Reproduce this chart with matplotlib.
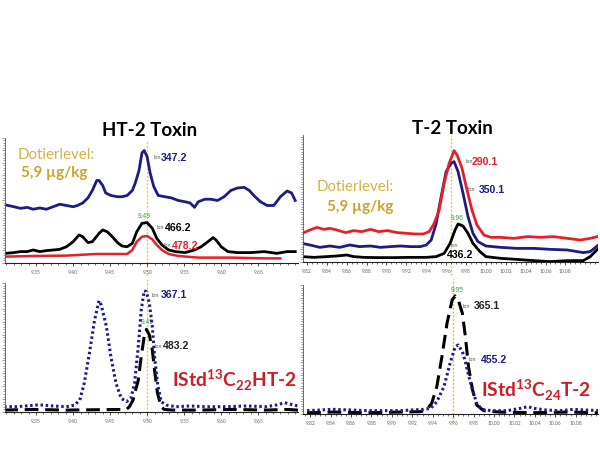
import matplotlib
matplotlib.use('Agg')
import matplotlib.pyplot as plt
from matplotlib.ticker import MultipleLocator

plt.rcParams['font.family'] = ['Lato', 'DejaVu Sans']
plt.rcParams['mathtext.fontset'] = 'custom'
plt.rcParams['mathtext.rm'] = 'Lato'
plt.rcParams['mathtext.bf'] = 'Lato:bold'

NAVY = '#1c1c84'
RED = '#e4202a'
GOLD = '#d2b24a'
GOLD2 = '#c9a52c'
GREEN = '#3c9c3c'
YEL = '#efc84a'

# --- HT-2 Toxin (oben links) ---
ht2_t_347 = [9.309, 9.320, 9.329, 9.338, 9.346, 9.355, 9.364, 9.373, 9.382, 9.391, 9.400, 9.406,
             9.413, 9.420, 9.426, 9.432, 9.435, 9.440, 9.444, 9.451, 9.460, 9.466, 9.473, 9.480,
             9.484, 9.489, 9.493, 9.496, 9.500, 9.504, 9.509, 9.515, 9.524, 9.533, 9.542, 9.551,
             9.558, 9.564, 9.569, 9.578, 9.586, 9.595, 9.604, 9.613, 9.622, 9.631, 9.638, 9.644,
             9.653, 9.662, 9.671, 9.680, 9.689, 9.695, 9.700]
ht2_i_347 = [46.4, 45, 43.7, 44.5, 43, 44, 43, 45, 47, 46, 45, 46,
             48, 52, 58, 66, 66, 62, 56, 54, 53, 53, 54, 58,
             64, 74, 88, 90, 85, 72, 61, 54, 53, 52, 50, 49,
             48, 44.5, 49, 51, 51, 50, 53, 58, 60, 60.5, 58, 54,
             49, 46, 46, 53, 57.6, 56, 50]
ht2_t_466 = [9.309, 9.320, 9.329, 9.338, 9.346, 9.355, 9.364, 9.373, 9.382, 9.391, 9.400, 9.408,
             9.413, 9.420, 9.426, 9.435, 9.440, 9.446, 9.453, 9.460, 9.466, 9.473, 9.480, 9.486,
             9.493, 9.500, 9.507, 9.513, 9.520, 9.529, 9.538, 9.551, 9.564, 9.573, 9.582, 9.589,
             9.593, 9.600, 9.609, 9.622, 9.640, 9.658, 9.675, 9.689, 9.700]
ht2_i_466 = [7.7, 8.3, 9.1, 9.1, 10.4, 9.1, 9.9, 10.4, 10.9, 13, 17, 22.4,
             21, 16.3, 17, 23.7, 26.4, 25, 21, 16.3, 13.6, 13, 15.7, 25,
             31.7, 32.3, 27.7, 19.7, 14.4, 10.4, 9.1, 8.3, 10.4, 13, 17, 20.3,
             18.4, 13, 9.1, 8.3, 8.3, 9.1, 7.7, 9.1, 9.1]
ht2_t_478 = [9.309, 9.346, 9.391, 9.431, 9.458, 9.473, 9.480, 9.486, 9.493, 9.500, 9.507, 9.513,
             9.520, 9.529, 9.542, 9.569, 9.613, 9.658, 9.680]
ht2_i_478 = [5.1, 5.6, 5.9, 7.2, 7.2, 7.2, 10.4, 17, 21, 21.6, 18.9, 14.4,
             10.4, 7.2, 5.6, 4.3, 4.3, 3.7, 3.7]

# --- T-2 Toxin (oben rechts) ---
t2_t_290 = [9.815, 9.823, 9.830, 9.837, 9.843, 9.850, 9.859, 9.867, 9.875, 9.884, 9.892, 9.901,
            9.911, 9.921, 9.929, 9.937, 9.943, 9.948, 9.953, 9.958, 9.963, 9.968, 9.971, 9.976,
            9.981, 9.986, 9.991, 9.998, 10.005, 10.015, 10.028, 10.042, 10.055, 10.068, 10.082,
            10.095, 10.105, 10.112]
t2_i_290 = [22.9, 25.6, 27.7, 26.1, 26.9, 25.6, 23.5, 25.1, 24.3, 26.1, 24.3, 25.1,
            23.5, 22.9, 22.4, 22.4, 24.3, 30.9, 41.6, 62.9, 78.9, 89.1, 85.6, 74.9,
            57.6, 41.6, 29.6, 21.6, 19.7, 19.7, 18.9, 20.3, 19.7, 20.3, 18.9,
            17.6, 18.9, 20.3]
t2_t_350 = [9.815, 9.823, 9.833, 9.843, 9.853, 9.863, 9.873, 9.884, 9.894, 9.904, 9.914, 9.924,
            9.934, 9.940, 9.945, 9.950, 9.955, 9.960, 9.965, 9.968, 9.972, 9.977, 9.982, 9.987,
            9.992, 10.000, 10.015, 10.031, 10.048, 10.065, 10.082, 10.098, 10.105, 10.112, 10.115]
t2_i_350 = [14.9, 13.6, 11.7, 12.8, 11.7, 13.6, 12.3, 12.8, 11.7, 12.3, 12.8, 12.3,
            12.3, 13.6, 17.6, 30.9, 52.3, 72.3, 78.9, 80.3, 72.3, 55, 36.3, 22.9,
            16.3, 12.8, 11.7, 10.9, 10.9, 10.1, 9.6, 7.5, 8.3, 12.8, 14.9]
t2_t_436 = [9.815, 9.827, 9.840, 9.850, 9.860, 9.867, 9.877, 9.890, 9.907, 9.924, 9.940, 9.950,
            9.958, 9.964, 9.969, 9.972, 9.977, 9.982, 9.987, 9.994, 10.000, 10.015, 10.031,
            10.048, 10.065, 10.082, 10.098, 10.105, 10.110, 10.115]
t2_i_436 = [4.3, 3.7, 4.3, 4.8, 5.6, 4.3, 3.7, 3.5, 3.5, 3.7, 3.7, 4.3,
            6.9, 14.9, 25.6, 30.4, 28.8, 22.9, 14.9, 8.3, 4.3, 2.9, 2.1,
            1.1, 0.3, 1.1, 1.1, 4.3, 8.3, 12.3]

# --- IStd 13C22 HT-2 (unten links) ---
is_ht2_t_367 = [9.307, 9.323, 9.336, 9.350, 9.359, 9.372, 9.391, 9.402, 9.409, 9.415, 9.422, 9.429,
                9.435, 9.438, 9.445, 9.451, 9.458, 9.465, 9.472, 9.478, 9.483, 9.488, 9.492, 9.496,
                9.499, 9.503, 9.507, 9.510, 9.514, 9.519, 9.526, 9.539, 9.557, 9.580, 9.607, 9.634,
                9.661, 9.674, 9.686, 9.692, 9.704]
is_ht2_i_367 = [4.1, 4.1, 4.7, 5.4, 5.4, 4.7, 4.1, 5.4, 9.3, 22.2, 45.5, 71.3,
                86.3, 82.9, 66.1, 42.9, 22.2, 10.6, 8.0, 10.6, 22.2, 50.6, 79.1, 94.0,
                93.3, 84.3, 66.1, 42.9, 22.2, 8.0, 5.4, 4.1, 4.7, 4.1, 4.1, 4.7,
                4.1, 5.4, 7.2, 6.2, 4.7]
is_ht2_t_483 = [9.307, 9.345, 9.391, 9.436, 9.472, 9.476, 9.481, 9.488, 9.492, 9.496, 9.499, 9.503,
                9.507, 9.510, 9.514, 9.519, 9.523, 9.534, 9.570, 9.615, 9.661, 9.688, 9.704]
is_ht2_i_483 = [1.5, 2, 1.5, 1.8, 2, 4.1, 9.3, 24.8, 42.9, 58.4, 64.1, 59.7,
                48.1, 32.6, 14.5, 4, 2, 1.5, 1.5, 2, 1.5, 2, 1.5]

# --- IStd 13C24 T-2 (unten rechts) ---
is_t2_t_365 = [9.817, 9.843, 9.876, 9.908, 9.928, 9.934, 9.939, 9.944, 9.949, 9.954, 9.959, 9.962,
               9.965, 9.969, 9.972, 9.975, 9.979, 9.983, 9.990, 10.006, 10.039, 10.072, 10.103]
is_t2_i_365 = [1, 1.5, 1, 1.5, 1.8, 3.1, 8.3, 21.2, 44.4, 70.3, 88.4, 91.5,
               88.4, 78.1, 59.9, 36.7, 18.6, 7.0, 2.5, 1.5, 1, 1.5, 1]
is_t2_t_455 = [9.817, 9.843, 9.876, 9.908, 9.931, 9.938, 9.944, 9.951, 9.957, 9.962, 9.965, 9.969,
               9.972, 9.975, 9.979, 9.983, 9.988, 9.997, 10.013, 10.026, 10.033, 10.039, 10.052,
               10.065, 10.078, 10.092, 10.103]
is_t2_i_455 = [2.6, 3.6, 2.6, 2.6, 3.6, 4.4, 9.5, 21.2, 39.3, 52.2, 53.5, 48.3,
               40.5, 30.2, 18.6, 8.3, 3.6, 2.6, 2.6, 4.4, 5.7, 4.4, 3.0,
               2.6, 3.6, 3.0, 2.6]

TICKS_HT2 = [9.35, 9.40, 9.45, 9.50, 9.55, 9.60, 9.65]
TICKS_T2 = [9.82, 9.84, 9.86, 9.88, 9.90, 9.92, 9.94, 9.96, 9.98, 10.00, 10.02, 10.04, 10.06, 10.08]
RT_HT2 = 9.50
RT_T2 = 9.965


def panel(fig, rect, xlim, ticks, minor, ytop):
    ax = fig.add_axes(rect)
    ax.set_xlim(*xlim)
    ax.set_ylim(0, ytop)
    ax.set_xticks(ticks)
    ax.set_xticklabels([f'{v:.2f}' for v in ticks])
    ax.xaxis.set_minor_locator(MultipleLocator(minor))
    ax.yaxis.set_major_locator(MultipleLocator(10))
    ax.yaxis.set_minor_locator(MultipleLocator(2))
    ax.set_yticklabels([])
    for s in ['top', 'right']:
        ax.spines[s].set_visible(False)
    ax.spines['left'].set_color('#555555')
    ax.spines['left'].set_linewidth(0.6)
    ax.spines['bottom'].set_color('#222222')
    ax.spines['bottom'].set_linewidth(0.8)
    ax.tick_params(axis='x', which='major', length=2.5, width=0.5, labelsize=3.6,
                   labelcolor='#666666', pad=2.5)
    ax.tick_params(axis='x', which='minor', length=1.5, width=0.4)
    ax.tick_params(axis='y', which='both', length=1.5, width=0.4, color='#555555')
    ax.tick_params(axis='y', which='major', length=2)
    ax.patch.set_alpha(0)
    return ax


def ion(ax, x_ion, x_num, y, num, color, size=7.6):
    ax.text(x_ion, y, 'Ion', fontsize=3.8, color='#555555', va='center', ha='left',
            family='Liberation Sans')
    ax.text(x_num, y, num, fontsize=size, color=color, va='center', ha='left',
            fontweight='bold', family='Liberation Sans')


fig = plt.figure(figsize=(6, 4.5), dpi=100)

# oben links
ax1 = panel(fig, [0.0083, 0.4156, 0.4887, 0.2778], (9.308, 9.704), TICKS_HT2, 0.01, 100)
ax1.axvline(RT_HT2, ymin=-0.1, ymax=0.98, color=YEL, lw=1.0, ls=(0, (1.5, 1.2)), clip_on=False, zorder=0)
ax1.plot(ht2_t_347, ht2_i_347, color=NAVY, lw=2.0)
ax1.plot(ht2_t_466, ht2_i_466, color='black', lw=2.0)
ax1.plot(ht2_t_478, ht2_i_478, color=RED, lw=1.8)
ion(ax1, 9.508, 9.519, 84, '347.2', NAVY)
ion(ax1, 9.513, 9.524, 28, '466.2', 'black')
ion(ax1, 9.522, 9.533, 13.6, '478.2', RED)
ax1.text(9.496, 36.8, '9.49', fontsize=4.8, color=GREEN, ha='center', va='center',
         family='Liberation Sans')
ax1.text(9.325, 86.4, 'Dotierlevel:', fontsize=10.8, color=GOLD, ha='left', va='center')
ax1.text(9.330, 72, '5,9 µg/kg', fontsize=11, color=GOLD2, ha='left', va='center', fontweight='bold')
fig.text(150 / 600, 1 - 130 / 450, 'HT-2 Toxin', fontsize=13.5, fontweight='bold',
         ha='center', va='center')

# oben rechts
ax2 = panel(fig, [0.505, 0.4178, 0.492, 0.2822], (9.816, 10.113), TICKS_T2, 0.005, 101.6)
ax2.axvline(RT_T2, ymin=-0.1, ymax=1.0, color=YEL, lw=1.0, ls=(0, (1.5, 1.2)), clip_on=False, zorder=0)
ax2.plot(t2_t_436, t2_i_436, color='black', lw=2.0)
ax2.plot(t2_t_350, t2_i_350, color=NAVY, lw=2.0)
ax2.plot(t2_t_290, t2_i_290, color=RED, lw=2.0)
ion(ax2, 9.979, 9.986, 80, '290.1', RED)
ion(ax2, 9.981, 9.9926, 57.6, '350.1', NAVY)
ax2.text(9.971, 34.4, '9.96', fontsize=4.8, color=GREEN, ha='center', va='center',
         family='Liberation Sans')
ax2.text(9.968, 12.8, 'Ion', fontsize=3.8, color='#555555', ha='center', va='center',
         family='Liberation Sans')
ax2.text(9.974, 5.6, '436.2', fontsize=7.6, color='black', ha='center', va='center',
         fontweight='bold', family='Liberation Sans')
ax2.text(9.830, 60, 'Dotierlevel:', fontsize=10.8, color=GOLD, ha='left', va='center')
ax2.text(9.840, 44, '5,9 µg/kg', fontsize=11, color=GOLD2, ha='left', va='center', fontweight='bold')
fig.text(452 / 600, 1 - 128 / 450, 'T-2 Toxin', fontsize=13.5, fontweight='bold',
         ha='center', va='center')

# unten links
ax3 = panel(fig, [0.0083, 0.0844, 0.4887, 0.2867], (9.308, 9.704), TICKS_HT2, 0.01, 100)
ax3.axvline(RT_HT2, ymin=-0.06, ymax=1.05, color=YEL, lw=1.0, ls=(0, (1.5, 1.2)), clip_on=False, zorder=0)
ax3.plot(is_ht2_t_483, is_ht2_i_483, color='black', lw=2.2, ls=(0, (4.5, 2.2)))
ax3.plot(is_ht2_t_367, is_ht2_i_367, color=NAVY, lw=2.2, ls=(0, (0.8, 0.9)))
ion(ax3, 9.506, 9.519, 90.7, '367.1', NAVY)
ion(ax3, 9.510, 9.521, 51, '483.2', '#222222')
ax3.text(9.500, 69, '9.49', fontsize=4.8, color=GREEN, ha='center', va='center',
         family='Liberation Sans', zorder=1)
ax3.text(9.533, 24.8, r'IStd$^{\mathbf{13}}$C$_{\mathbf{22}}$HT-2', fontsize=13.8, color='#d01c24',
         fontweight='bold', ha='left', va='center')

# unten rechts
ax4 = panel(fig, [0.505, 0.08, 0.492, 0.2867], (9.813, 10.102), TICKS_T2, 0.005, 100)
ax4.axvline(9.96, ymin=-0.06, ymax=1.05, color='#f2b630', lw=1.0, ls=(0, (1.5, 1.2)), clip_on=False, zorder=0)
ax4.plot(is_t2_t_365, is_t2_i_365, color='black', lw=2.2, ls=(0, (4.5, 2.2)))
ax4.plot(is_t2_t_455, is_t2_i_455, color=NAVY, lw=2.2, ls=(0, (0.8, 0.9)))
ax4.text(9.964, 96, '9.95', fontsize=4.8, color=GREEN, ha='center', va='center',
         family='Liberation Sans')
ion(ax4, 9.969, 9.980, 83.7, '365.1', '#222222')
ion(ax4, 9.975, 9.987, 41.9, '455.2', NAVY)
ax4.text(9.987, 18.6, r'IStd$^{\mathbf{13}}$C$_{\mathbf{24}}$T-2', fontsize=13.8, color='#d01c24',
         fontweight='bold', ha='left', va='center')

fig.savefig('out.png', dpi=100)
